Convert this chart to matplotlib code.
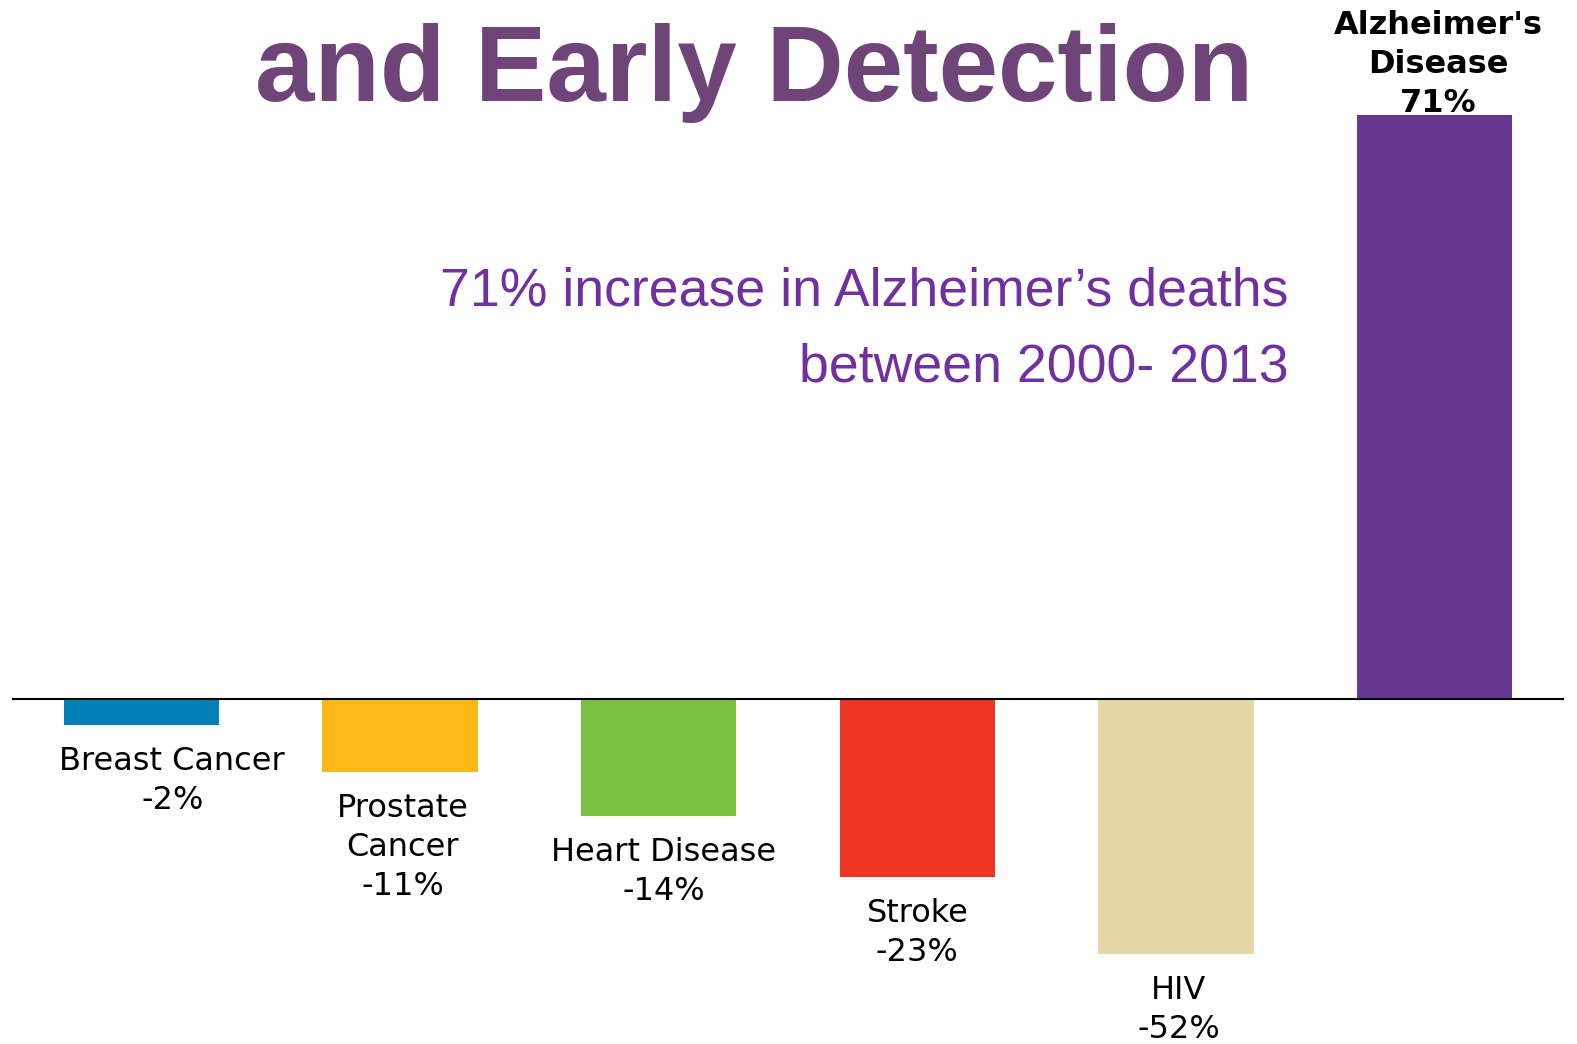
import matplotlib
matplotlib.use("Agg")
import matplotlib.pyplot as plt

# data (bar lengths as drawn, label text as printed)
categories = ["Breast Cancer", "Prostate\nCancer", "Heart Disease", "Stroke", "HIV", "Alzheimer's\nDisease"]
labels = ["-2%", "-11%", "-14%", "-23%", "-52%", "71%"]
bar_heights = [-3.2, -8.9, -14.2, -21.6, -31.0, 71.0]
colors = ["#0080B4", "#FBB817", "#7DC142", "#EE3524", "#E5D7A8", "#663690"]

W, H = 1577, 1044
fig = plt.figure(figsize=(W / 100, H / 100), dpi=100)
ax = fig.add_axes([12 / W, 0, 1552 / W, 1])

x = list(range(len(categories)))
ax.bar(x, bar_heights, width=0.6, color=colors, zorder=1)
ax.axhline(0, color="black", lw=1.5, zorder=2)

ax.set_xlim(-0.5, 5.5)
ax.set_ylim(-41.9, 84.93)
ax.axis("off")

# label offsets (x in data units, y in points)
dx = [0.12, 0.01, 0.02, 0.0, 0.01, 0.015]
dy = [-15, -15, -15, -15, -15, -3]

for i in x:
    text = categories[i] + "\n" + labels[i]
    if bar_heights[i] < 0:
        ax.annotate(text, (x[i] + dx[i], bar_heights[i]), xytext=(0, dy[i]),
                    textcoords="offset points", ha="center", va="top",
                    fontsize=23, family="DejaVu Sans", linespacing=1.33)
    else:
        ax.annotate(text, (x[i] + dx[i], bar_heights[i]), xytext=(0, dy[i]),
                    textcoords="offset points", ha="center", va="bottom",
                    fontsize=23, fontweight="bold", family="DejaVu Sans", linespacing=1.33)

fig.text(754 / W, 1 - 101 / H, "and Early Detection", ha="center", va="baseline",
         fontsize=77, fontweight="bold", family="Liberation Sans", color="#6F4478")

fig.text(1289 / W, 1 - 305 / H, "71% increase in Alzheimer’s deaths", ha="right", va="baseline",
         fontsize=38.6, family="Liberation Sans", color="#7030A0")
fig.text(1289 / W, 1 - 382 / H, "between 2000- 2013", ha="right", va="baseline",
         fontsize=38.6, family="Liberation Sans", color="#7030A0")

fig.savefig("out.png", dpi=100)
